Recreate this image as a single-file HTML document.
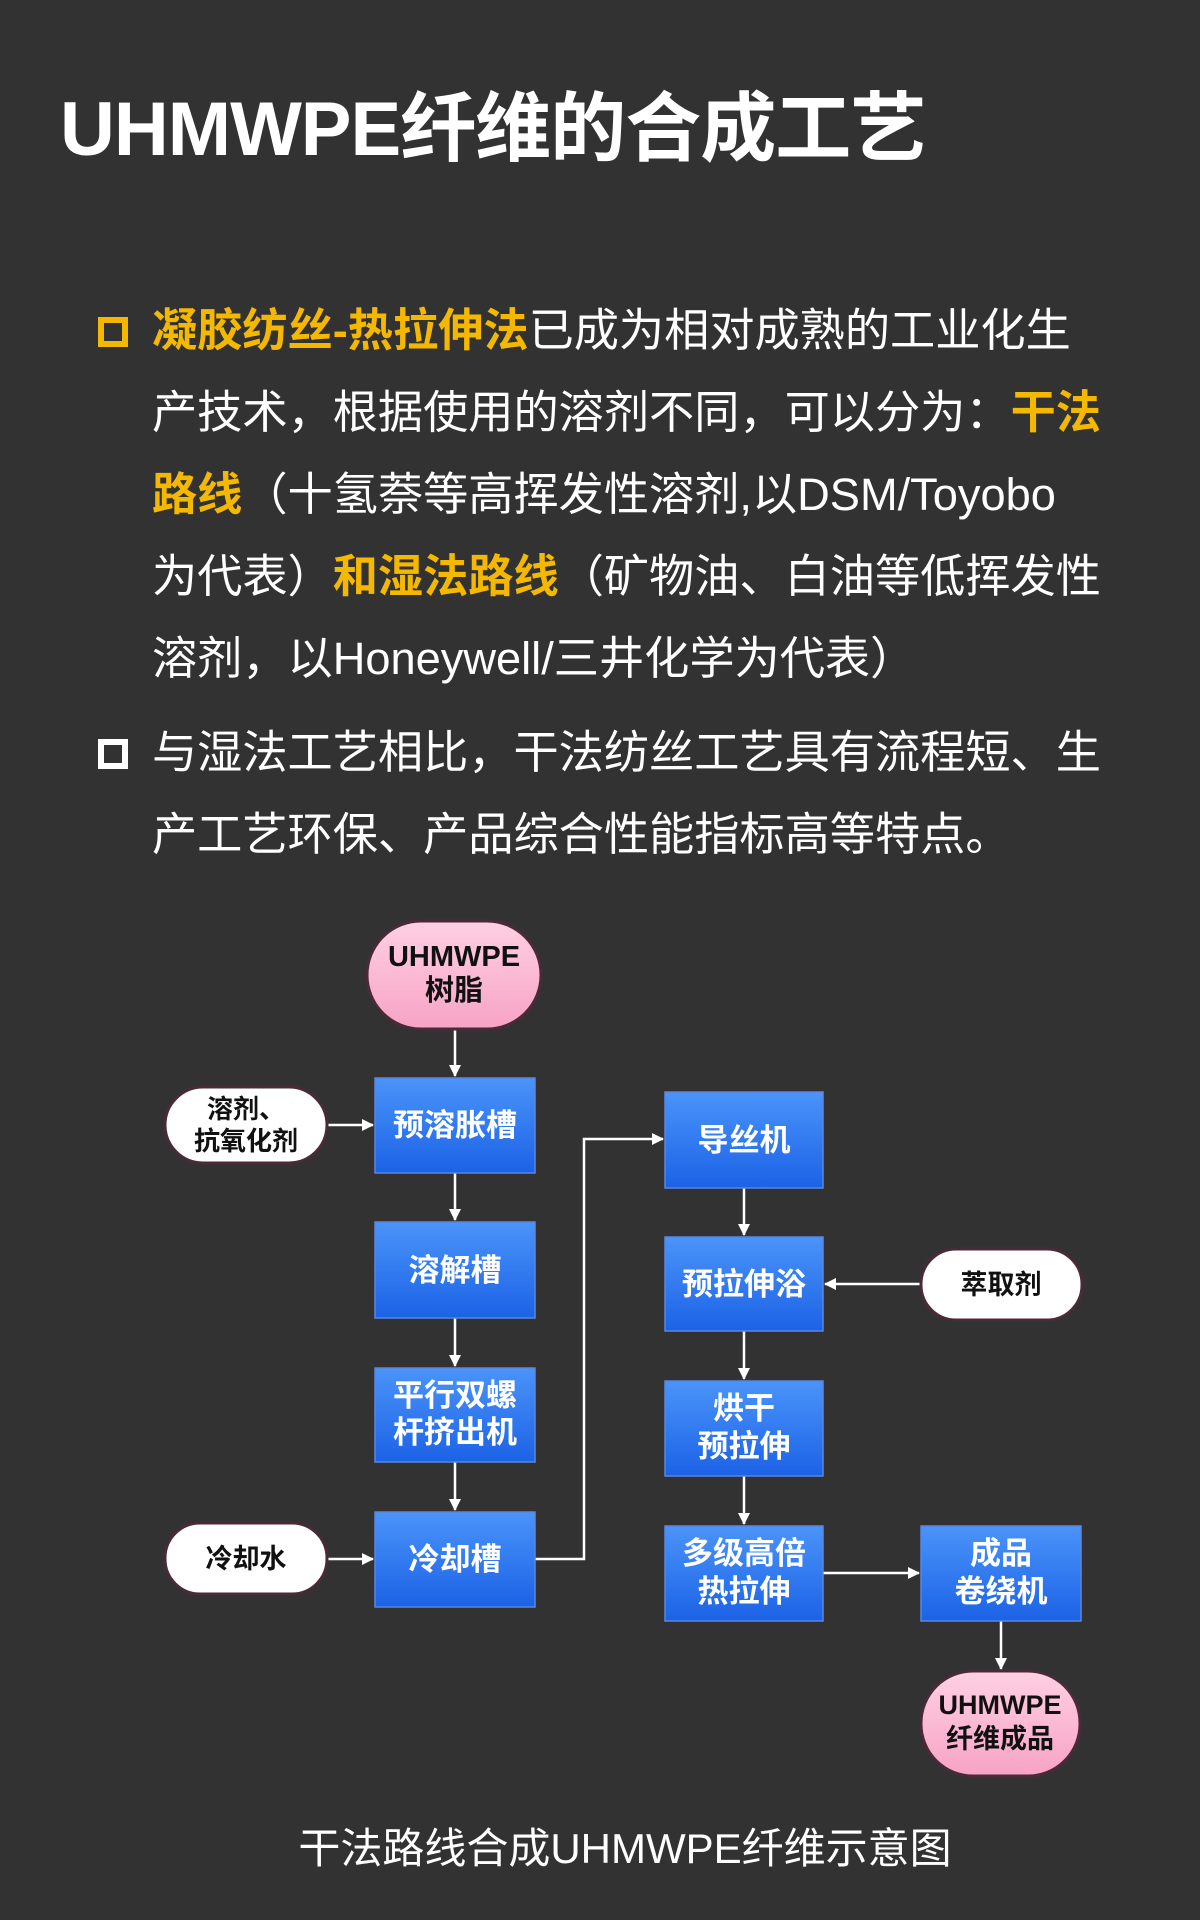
<!DOCTYPE html>
<html><head><meta charset="utf-8"><style>
html,body{margin:0;padding:0;}
body{width:1200px;height:1920px;background:#323232;position:relative;overflow:hidden;font-family:"Liberation Sans","Noto Sans CJK SC",sans-serif;}
.title{position:absolute;left:60px;top:80px;font-size:76px;font-weight:bold;color:#fff;line-height:100px;white-space:nowrap;letter-spacing:-1px;}
.p{position:absolute;left:152px;font-size:45.2px;color:#fff;white-space:nowrap;line-height:82px;}
.y{color:#f5b800;font-weight:bold;}
.sq{position:absolute;left:98px;width:18px;height:18px;border:6px solid #f5b800;}
.cap{position:absolute;left:0;width:1250px;text-align:center;top:1815px;font-size:42px;color:#fff;}
</style></head><body>
<div class="title">UHMWPE纤维的合成工艺</div>
<div class="sq" style="top:317px"></div>
<div class="p" style="top:290px"><span class="y">凝胶纺丝-热拉伸法</span>已成为相对成熟的工业化生<br>产技术，根据使用的溶剂不同，可以分为：<span class="y">干法</span><br><span class="y">路线</span>（十氢萘等高挥发性溶剂,以DSM/Toyobo<br>为代表）<span class="y">和湿法路线</span>（矿物油、白油等低挥发性<br>溶剂，以Honeywell/三井化学为代表）</div>
<div class="sq" style="top:739px;border-color:#fff"></div>
<div class="p" style="top:712px">与湿法工艺相比，干法纺丝工艺具有流程短、生<br>产工艺环保、产品综合性能指标高等特点。</div>

<svg width="1200" height="1920" style="position:absolute;left:0;top:0" xmlns="http://www.w3.org/2000/svg">
<defs>
<linearGradient id="b" x1="0" y1="0" x2="0" y2="1"><stop offset="0" stop-color="#4a94fa"/><stop offset="1" stop-color="#1c62e6"/></linearGradient>
<linearGradient id="pk" x1="0" y1="0" x2="0" y2="1"><stop offset="0" stop-color="#ffd0e2"/><stop offset="1" stop-color="#f7a3c6"/></linearGradient>
<marker id="a" markerWidth="12" markerHeight="12" refX="11" refY="6" orient="auto" markerUnits="userSpaceOnUse"><path d="M0,0 L12,6 L0,12 z" fill="#fff"/></marker>
</defs>
<g stroke="#fff" stroke-width="2.5" fill="none" marker-end="url(#a)">
<line x1="455" y1="1029" x2="455" y2="1076"/>
<line x1="327" y1="1125" x2="373" y2="1125"/>
<line x1="455" y1="1173" x2="455" y2="1220"/>
<line x1="455" y1="1318" x2="455" y2="1366"/>
<line x1="455" y1="1462" x2="455" y2="1510"/>
<line x1="327" y1="1559" x2="373" y2="1559"/>
<polyline points="535,1559 584,1559 584,1139 663,1139"/>
<line x1="744" y1="1188" x2="744" y2="1235"/>
<line x1="921" y1="1284" x2="825" y2="1284"/>
<line x1="744" y1="1331" x2="744" y2="1379"/>
<line x1="744" y1="1476" x2="744" y2="1524"/>
<line x1="823" y1="1573" x2="919" y2="1573"/>
<line x1="1001" y1="1621" x2="1001" y2="1669"/>
</g>
<g stroke="#5a86e0" stroke-width="1.5" fill="url(#b)">
<rect x="375" y="1078" width="160" height="95"/>
<rect x="375" y="1222" width="160" height="96"/>
<rect x="375" y="1368" width="160" height="94"/>
<rect x="375" y="1512" width="160" height="95"/>
<rect x="665" y="1092" width="158" height="96"/>
<rect x="665" y="1237" width="158" height="94"/>
<rect x="665" y="1381" width="158" height="95"/>
<rect x="665" y="1526" width="158" height="95"/>
<rect x="921" y="1526" width="160" height="95"/>
</g>
<g stroke="#4a2a38" stroke-width="3">
<rect x="367" y="921" width="174" height="108" rx="54" fill="url(#pk)"/>
<rect x="921" y="1671" width="159" height="105" rx="52" fill="url(#pk)"/>
<rect x="165" y="1087" width="162" height="76" rx="38" fill="#fff"/>
<rect x="165" y="1523" width="162" height="71" rx="35" fill="#fff"/>
<rect x="921" y="1249" width="161" height="71" rx="35" fill="#fff"/>
</g>
<g font-family="Liberation Sans,Noto Sans CJK SC,sans-serif" font-weight="bold" text-anchor="middle" font-size="29">
<text x="454" y="966" fill="#111">UHMWPE</text><text x="454" y="1000" fill="#111">树脂</text>
<text x="1000" y="1714" fill="#111" font-size="27">UHMWPE</text><text x="1000" y="1748" fill="#111" font-size="27">纤维成品</text>
<text x="246" y="1118" fill="#111" font-size="26">溶剂、</text><text x="246" y="1150" fill="#111" font-size="26">抗氧化剂</text>
<text x="246" y="1568" fill="#111" font-size="27">冷却水</text>
<text x="1001" y="1294" fill="#111" font-size="27">萃取剂</text>
<g fill="#fff" font-size="31">
<text x="455" y="1136">预溶胀槽</text>
<text x="455" y="1281">溶解槽</text>
<text x="455" y="1406">平行双螺</text><text x="455" y="1443">杆挤出机</text>
<text x="455" y="1570">冷却槽</text>
<text x="744" y="1151">导丝机</text>
<text x="744" y="1295">预拉伸浴</text>
<text x="744" y="1419">烘干</text><text x="744" y="1457">预拉伸</text>
<text x="744" y="1564">多级高倍</text><text x="744" y="1602">热拉伸</text>
<text x="1001" y="1564">成品</text><text x="1001" y="1602">卷绕机</text>
</g></g>
</svg>
<div class="cap">干法路线合成UHMWPE纤维示意图</div>
</body></html>
